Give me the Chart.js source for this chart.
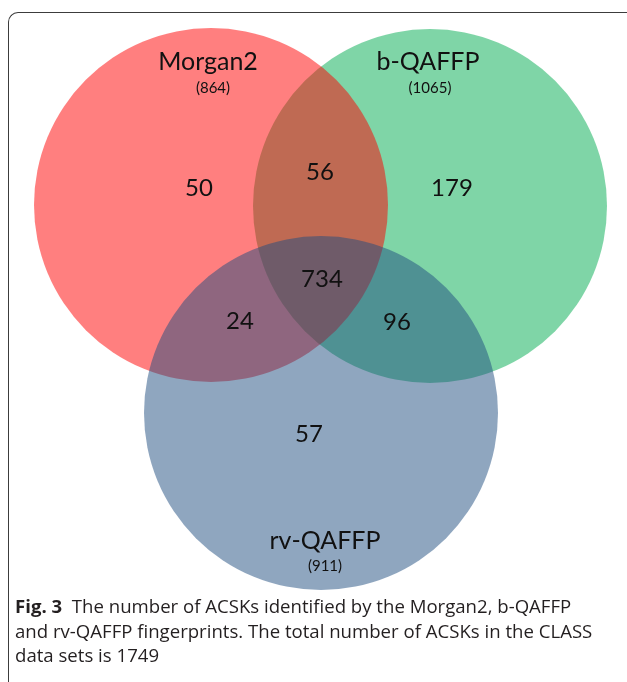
<!DOCTYPE html>
<html>
<head>
<meta charset="utf-8">
<script src="https://cdn.jsdelivr.net/npm/chart.js@4.4.0/dist/chart.umd.min.js"></script>
<style>
  html, body { margin: 0; padding: 0; background: #fff; overflow: hidden; }
  #frame {
    position: absolute; left: 8px; top: 12px; width: 700px; height: 700px;
    border-left: 1.5px solid #3c3c3c; border-top: 1.5px solid #3c3c3c;
    border-top-left-radius: 10px;
  }
  #venn { position: absolute; left: 0; top: 0; }
  #caption {
    position: absolute; left: 15px; top: 594px; white-space: nowrap;
    font-family: "Open Sans", sans-serif; font-size: 18.6px; line-height: 24.5px; color: #231f20;
  }
  #caption b { font-weight: 700; }
</style>
</head>
<body>
<div id="frame"></div>
<canvas id="venn" width="627" height="682"></canvas>
<div id="caption">
  <b>Fig. 3</b>&nbsp; The number of ACSKs identified by the Morgan2, b-QAFFP<br>
  and rv-QAFFP fingerprints. The total number of ACSKs in the CLASS<br>
  data sets is 1749
</div>

<script>
// --- Data ---
const setNames = ['Morgan2', 'b-QAFFP', 'rv-QAFFP'];
const setTotals = [864, 1065, 911];

// region order: M only, b only, rv only, M&b, M&rv, b&rv, all three
const regionNames = ['Morgan2 only', 'b-QAFFP only', 'rv-QAFFP only',
    'Morgan2 & b-QAFFP', 'Morgan2 & rv-QAFFP', 'b-QAFFP & rv-QAFFP', 'All three'];
const regionCounts = [50, 179, 57, 56, 24, 96, 734];

// --- Layout (diagram units = page pixels) ---
const circleCenters = [[211, 205], [430, 206], [321, 413]];
const circleRadius = 177;
const circleColors = ['rgba(255, 0, 0, 0.5)', 'rgba(0, 171, 79, 0.5)', 'rgba(31, 77, 127, 0.5)'];
const circleOrder = [2, 3, 1]; // green at the bottom, then red, blue on top

const nameSpots = [[208, 62], [428, 62], [325, 541]];
const totalSpots = [[213, 88], [430, 88], [325, 566]];
const regionSpots = [[199, 188], [452, 188], [309, 434], [320, 172], [240, 321], [397, 322], [322, 279]];

// Text labels, placed through the chart scales
const vennLabels = {
    id: 'vennLabels',
    afterDatasetsDraw(chart) {
        const { ctx, scales: { x, y } } = chart;
        ctx.save();
        ctx.fillStyle = '#111';
        ctx.textAlign = 'center';
        ctx.textBaseline = 'middle';

        ctx.font = '25px Lato';
        setNames.forEach((name, i) => {
            ctx.fillText(name, x.getPixelForValue(nameSpots[i][0]), y.getPixelForValue(nameSpots[i][1]));
        });

        ctx.font = '15px Lato';
        setTotals.forEach((total, i) => {
            ctx.fillText('(' + total + ')', x.getPixelForValue(totalSpots[i][0]), y.getPixelForValue(totalSpots[i][1]));
        });

        ctx.font = '24px Lato';
        regionCounts.forEach((count, i) => {
            ctx.fillText(String(count), x.getPixelForValue(regionSpots[i][0]), y.getPixelForValue(regionSpots[i][1]));
        });
        ctx.restore();
    }
};

const datasets = setNames.map((name, i) => ({
    label: name,
    data: [{ x: circleCenters[i][0], y: circleCenters[i][1], r: circleRadius }],
    backgroundColor: circleColors[i],
    borderWidth: 0,
    order: circleOrder[i],
    clip: false
}));

new Chart(document.getElementById('venn'), {
    type: 'bubble',
    data: { datasets: datasets },
    options: {
        responsive: false,
        animation: false,
        events: [],
        layout: { padding: 0, autoPadding: false },
        scales: {
            x: { type: 'linear', min: 0, max: 627, display: false },
            y: { type: 'linear', min: 0, max: 682, reverse: true, display: false }
        },
        plugins: {
            legend: { display: false },
            tooltip: { enabled: false }
        }
    },
    plugins: [vennLabels]
});
</script>
</body>
</html>
